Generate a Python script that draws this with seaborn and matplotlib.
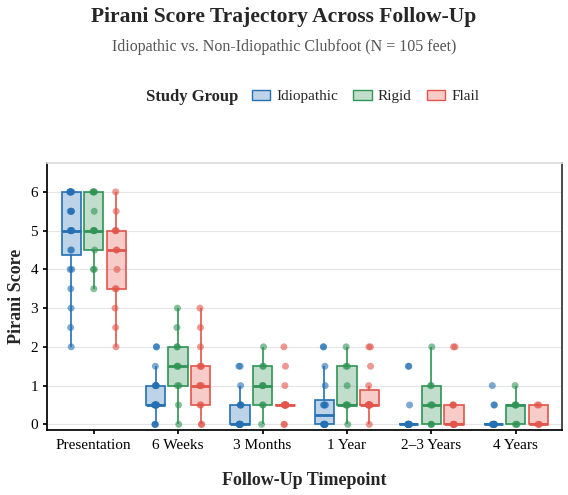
import matplotlib
matplotlib.use("Agg")
import matplotlib.pyplot as plt
import seaborn as sns
import pandas as pd
from matplotlib.patches import Patch
from matplotlib.offsetbox import HPacker

sns.set_theme(style="whitegrid")
plt.rcParams['font.family'] = ['Liberation Serif', 'DejaVu Serif']

timepoints = ["Presentation", "6 Weeks", "3 Months", "1 Year", "2\u20133 Years", "4 Years"]
groups = ["Idiopathic", "Rigid", "Flail"]
colors = {"Idiopathic": "#2470b3", "Rigid": "#2f9455", "Flail": "#e2554a"}

idiopathic = [
    [2, 2.5, 3, 3.5, 4, 4, 4.5, 4.5, 5, 5, 5, 5, 5, 5.5, 5.5, 5.5, 5.5, 6, 6, 6, 6, 6, 6, 6],
    [0, 0, 0, .5, .5, .5, .5, .5, .5, .5, .5, 1, 1, 1, 1, 1, 1.5, 2, 2],
    [0]*10 + [.5, .5, .5, .5, 1, 1.5, 1.5],
    [0]*8 + [.5, .5, .5, .5, 1, 1.5, 2, 2],
    [0]*12 + [.5, 1.5, 1.5],
    [0]*10 + [.5, .5, 1],
]
rigid = [
    [3.5, 4, 4, 4.5, 5, 5, 5, 5, 5.5, 6, 6, 6, 6],
    [0, .5, 1, 1, 1.5, 1.5, 1.5, 2, 2, 2.5, 3],
    [0, .5, .5, 1, 1, 1, 1.5, 1.5, 2],
    [0, .5, .5, .5, .5, 1, 1.5, 1.5, 2],
    [0, 0, 0, .5, .5, .5, 1, 1, 2],
    [0, 0, 0, .5, .5, .5, .5, 1],
]
flail = [
    [2, 2.5, 3, 3.5, 3.5, 4, 4.5, 4.5, 5, 5, 5, 5.5, 6],
    [0, 0, .5, .5, 1, 1, 1, 1.5, 1.5, 1.5, 2, 2.5, 3],
    [0, 0] + [.5]*9 + [1, 1.5, 2],
    [0] + [.5]*9 + [1, 1.5, 2, 2],
    [0]*6 + [.5, .5, .5, 2, 2],
    [0, 0, 0, .5, .5],
]

rows = []
for g, series in zip(groups, [idiopathic, rigid, flail]):
    for t, vals in zip(timepoints, series):
        for v in vals:
            rows.append({"Timepoint": t, "Score": v, "Group": g})
df = pd.DataFrame(rows)

fig = plt.figure(figsize=(5.68, 4.95), dpi=100)
ax = fig.add_axes([0.083, 0.131, 0.907, 0.54])

sns.boxplot(data=df, x="Timepoint", y="Score", hue="Group", hue_order=groups,
            order=timepoints, palette=colors, showfliers=False, showcaps=False,
            width=0.8, gap=0.15, linewidth=1.2, ax=ax, legend=False)
for cont, g in zip(ax.containers, groups):
    c = matplotlib.colors.to_rgb(colors[g])
    for p in cont.boxes:
        p.set_facecolor((*c, 0.3))
        p.set_edgecolor(c)
    for ln in list(cont.whiskers) + list(cont.medians) + list(cont.caps):
        ln.set_color(c)
    for ln in cont.medians:
        ln.set_linewidth(2)

sns.stripplot(data=df, x="Timepoint", y="Score", hue="Group", hue_order=groups,
              order=timepoints, palette=colors, dodge=True, jitter=0.04, size=5,
              alpha=0.6, ax=ax, legend=False)

ax.set_ylim(-0.15, 6.75)
ax.set_yticks(range(7))
ax.set_xlim(-0.55, 5.55)
ax.grid(axis="x", visible=False)
ax.grid(axis="y", color="#e5e5e5", linewidth=0.8)
ax.spines["left"].set_color("black")
ax.spines["bottom"].set_color("black")
ax.spines["right"].set_color("#333333")
ax.spines["top"].set_color("#dddddd")
ax.tick_params(axis="both", labelsize=11, colors="black", length=3, left=True, bottom=True)
ax.set_xlabel("Follow-Up Timepoint", fontsize=13, fontweight="bold", labelpad=14)
ax.set_ylabel("Pirani Score", fontsize=13, fontweight="bold")

fig.text(0.5, 0.965, "Pirani Score Trajectory Across Follow-Up", ha="center", va="center",
         fontsize=15.5, fontweight="bold")
fig.text(0.5, 0.905, "Idiopathic vs. Non-Idiopathic Clubfoot (N = 105 feet)", ha="center",
         va="center", fontsize=11.5, color="#555555")

handles = [Patch(facecolor=(*matplotlib.colors.to_rgb(colors[g]), 0.3),
                 edgecolor=colors[g], label=g) for g in groups]
leg = fig.legend(handles=handles, title="Study Group", loc="center", bbox_to_anchor=(0.55, 0.805),
                 ncol=3, frameon=False, fontsize=11, title_fontproperties={"weight": "bold", "size": 12},
                 handlelength=1.2, columnspacing=1.0, handletextpad=0.4)
box = leg._legend_box
box._children = [HPacker(children=box.get_children(), align="center", pad=0, sep=10)]

fig.savefig("out.png", dpi=100)
